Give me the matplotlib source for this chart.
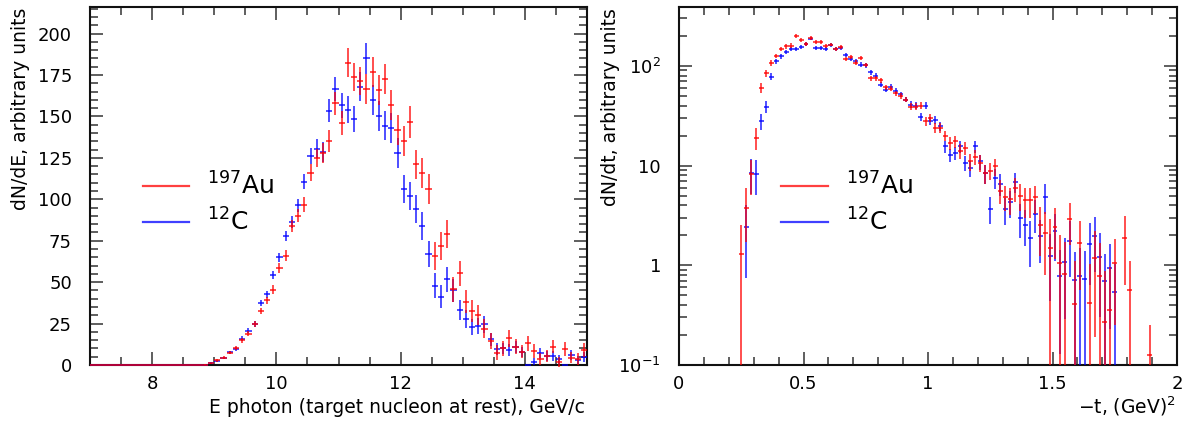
import numpy as np
import matplotlib
matplotlib.use("Agg")
import matplotlib.pyplot as plt
from matplotlib.ticker import MultipleLocator, FixedLocator, FixedFormatter, LogLocator, NullFormatter

plt.rcParams['font.family'] = ['DejaVu Sans']
plt.rcParams['mathtext.fontset'] = 'dejavusans'

# ---------------- Left panel data: photon energy spectrum ----------------
e_centers = [round(7.05 + 0.1 * i, 2) for i in range(80)]
e_au = [0]*18 + [
    0.3, 1.0, 2.8, 4.4, 7.4, 10.0, 14.8, 19.0, 25.0, 32.5,
    39.0, 45.5, 58.5, 66.0, 84.0, 90.0, 96.6, 116.0, 125.0, 128.0,
    135.0, 158.0, 146.0, 182.5, 174.0, 171.4, 166.5, 177.0, 166.0, 172.5,
    156.7, 142.0, 135.0, 146.5, 121.0, 116.0, 106.0, 66.0, 72.0, 78.8,
    45.8, 55.4, 38.3, 32.5, 30.0, 22.0, 14.5, 7.4, 10.2, 16.0,
    11.0, 8.0, 13.0, 8.5, 3.8, 5.4, 11.0, 1.7, 9.7, 4.5,
    3.6, 9.0]
e_au_err = [0]*18 + [
    0.3, 0.5, 0.7, 0.8, 1.0, 1.2, 1.4, 1.6, 1.8, 2.0,
    2.2, 2.5, 2.8, 3.2, 3.6, 4.0, 4.5, 5.0, 5.5, 6.0,
    6.5, 7.0, 7.5, 8.5, 8.5, 8.5, 9.0, 9.0, 9.0, 9.0,
    9.0, 9.0, 9.0, 9.5, 9.0, 9.0, 9.0, 8.5, 8.5, 8.5,
    7.5, 7.5, 7.0, 6.5, 6.0, 5.5, 5.0, 4.5, 4.5, 5.0,
    4.5, 4.0, 4.5, 4.0, 3.5, 3.5, 4.0, 3.0, 4.0, 3.5,
    3.5, 4.0]
e_c = [0]*18 + [
    0.3, 1.2, 2.6, 4.2, 7.6, 9.6, 15.8, 20.8, 24.6, 37.3,
    42.7, 54.4, 65.0, 77.8, 86.0, 96.4, 110.7, 126.0, 130.6, 128.5,
    153.5, 166.5, 156.7, 154.0, 148.5, 168.0, 185.0, 160.0, 150.0, 144.5,
    143.0, 128.0, 106.0, 101.8, 94.0, 84.0, 67.0, 47.8, 41.3, 51.8,
    45.0, 33.0, 27.8, 22.8, 23.5, 24.5, 15.5, 9.6, 10.0, 9.0,
    11.0, 8.0, 0.0, 2.0, 7.3, 5.2, 5.2, 3.4, 0.0, 6.0,
    3.0, 4.6]
e_c_err = [0]*18 + [
    0.3, 0.5, 0.7, 0.8, 1.0, 1.2, 1.4, 1.6, 1.8, 2.0,
    2.2, 2.5, 2.8, 3.2, 3.6, 4.0, 4.5, 5.0, 5.5, 6.0,
    7.0, 7.5, 7.5, 8.0, 8.0, 8.5, 9.5, 9.0, 9.0, 9.0,
    9.0, 9.0, 8.5, 8.5, 8.5, 8.5, 8.0, 7.5, 7.0, 7.5,
    7.0, 6.0, 5.5, 5.0, 5.0, 5.0, 4.0, 3.5, 3.5, 3.5,
    3.5, 3.0, 0.0, 2.0, 3.0, 3.0, 3.0, 2.5, 0.0, 3.0,
    2.5, 3.0]

# ---------------- Right panel data: -t spectrum ----------------
t_centers = [round(0.25 + 0.02 * i, 2) for i in range(83)]
nan = float('nan')
t_au = [
    1.3, 3.8, 8.3, 19.0, 60.0, 85.0, 107.0, 126.0, 148.0, 157.0,
    160.0, 200.0, 183.0, 167.0, 190.0, 174.0, 174.0, 160.0, 164.0, 148.0,
    155.0, 117.0, 123.0, 108.0, 120.0, 103.0, 75.0, 75.0, 72.0, 61.0,
    59.0, 53.0, 50.0, 46.0, 39.0, 39.0, 40.0, 28.0, 30.0, 24.0,
    24.0, 20.0, 17.0, 17.5, 14.0, 15.0, 11.0, 12.3, 10.7, 8.4,
    8.9, 9.8, 5.6, 4.9, 4.6, 5.9, 5.0, 4.5, 4.5, 4.8,
    2.55, 2.1, 1.5, 2.45, 1.05, 0.82, 2.9, 0.41, 1.67, nan,
    0.42, 1.19, 0.79, 0.27, 0.36, 1.05, nan, 1.88, 0.56, nan,
    nan, nan, 0.126]
t_au_err = [
    1.25, 2.1, 3.2, 4.7, 7.0, 7.0, 7.0, 7.0, 7.0, 8.0,
    8.0, 8.0, 8.0, 8.0, 8.0, 8.0, 8.0, 7.0, 7.0, 7.0,
    7.0, 6.0, 6.0, 6.0, 6.0, 5.0, 4.5, 4.5, 4.0, 3.8,
    3.6, 3.4, 3.2, 3.0, 3.0, 3.0, 3.0, 2.8, 2.8, 2.6,
    2.6, 2.5, 2.5, 2.4, 2.3, 2.3, 2.1, 2.2, 2.0, 1.8,
    1.8, 1.9, 1.5, 1.4, 1.4, 1.6, 1.5, 1.5, 1.5, 1.5,
    1.3, 1.3, 1.4, 1.3, 0.95, 0.9, 1.3, 0.7, 1.1, 0.0,
    0.6, 1.0, 0.9, 0.6, 0.6, 0.8, 0.0, 1.25, 0.55, 0.0,
    0.0, 0.0, 0.125]
t_c = [
    nan, 2.4, 8.4, 8.3, 28.0, 39.0, 78.0, 111.0, 125.0, 138.0,
    148.0, 148.0, 155.0, 165.0, 188.0, 152.0, 152.0, 148.0, 163.0, 148.0,
    152.0, 129.0, 117.0, 112.0, 103.0, 101.0, 86.0, 80.0, 65.0, 58.0,
    62.0, 56.0, 52.0, 46.0, 41.0, 40.0, 31.0, 40.0, 28.0, 29.0,
    25.0, 15.6, 12.8, 13.5, 15.6, 10.7, 9.4, 15.6, 11.0, 8.4,
    3.7, 7.5, 6.6, 3.66, 4.3, 6.9, 3.0, 2.55, 1.87, 3.3,
    1.95, 4.9, 1.24, 2.2, 0.78, 1.09, 1.76, 0.72, 0.78, 0.73,
    1.64, 1.96, 1.2, 0.69, 0.93, 0.54, nan, nan, nan, nan,
    nan, nan, nan]
t_c_err = [
    0.0, 1.65, 3.2, 3.2, 5.0, 5.0, 6.0, 7.0, 7.0, 7.0,
    7.0, 7.0, 7.0, 8.0, 8.0, 7.0, 7.0, 7.0, 7.0, 7.0,
    7.0, 6.0, 6.0, 6.0, 5.5, 5.0, 4.5, 4.5, 4.0, 3.8,
    3.8, 3.5, 3.3, 3.0, 3.0, 3.0, 2.8, 3.0, 2.6, 2.6,
    2.5, 2.2, 2.0, 2.0, 2.2, 1.8, 1.7, 2.1, 1.9, 1.8,
    1.1, 1.7, 1.6, 1.1, 1.3, 1.6, 1.1, 1.0, 0.9, 1.2,
    0.9, 1.6, 0.8, 1.1, 0.65, 0.8, 1.0, 0.65, 0.7, 0.65,
    1.0, 1.1, 0.9, 0.6, 0.7, 0.5, 0.0, 0.0, 0.0, 0.0,
    0.0, 0.0, 0.0]

label_au = r'$^{197}$Au'
label_c = r'$^{12}$C'
color_au = '#ff0000'
color_c = '#0000ff'

W, H = 1187, 423
fig = plt.figure(figsize=(W / 100, H / 100), dpi=100)

def px_axes(x0, x1, ytop, ybot):
    return fig.add_axes([x0 / W, 1 - ybot / H, (x1 - x0) / W, (ybot - ytop) / H])

axL = px_axes(90, 587, 7, 365)
axR = px_axes(679, 1177, 7, 365)

ekw = dict(fmt='none', elinewidth=1.3, capsize=0, alpha=0.75, zorder=3)

# left
axL.errorbar(e_centers, e_c, yerr=e_c_err, xerr=0.05, ecolor=color_c, clip_on=False, **ekw)
axL.errorbar(e_centers, e_au, yerr=e_au_err, xerr=0.05, ecolor=color_au, clip_on=False, **ekw)
axL.set_xlim(7, 15)
axL.set_ylim(0, 216)
axL.xaxis.set_major_locator(FixedLocator([8, 10, 12, 14]))
axL.xaxis.set_minor_locator(MultipleLocator(0.5))
axL.yaxis.set_major_locator(MultipleLocator(25))
axL.yaxis.set_minor_locator(MultipleLocator(5))

# right
axR.set_yscale('log')
axR.errorbar(t_centers, t_c, yerr=t_c_err, xerr=0.01, ecolor=color_c, **ekw)
axR.errorbar(t_centers, t_au, yerr=t_au_err, xerr=0.01, ecolor=color_au, **ekw)
axR.set_xlim(0, 2)
axR.set_ylim(0.1, 390)
axR.xaxis.set_major_locator(FixedLocator([0, 0.5, 1, 1.5, 2]))
axR.xaxis.set_major_formatter(FixedFormatter(['0', '0.5', '1', '1.5', '2']))
axR.xaxis.set_minor_locator(MultipleLocator(0.1))
axR.yaxis.set_major_locator(FixedLocator([0.1, 1, 10, 100]))
axR.yaxis.set_major_formatter(FixedFormatter([r'$10^{-1}$', '1', '10', r'$10^{2}$']))
axR.yaxis.set_minor_locator(LogLocator(base=10, subs=np.arange(2, 10), numticks=20))
axR.yaxis.set_minor_formatter(NullFormatter())

for ax in (axL, axR):
    for s in ax.spines.values():
        s.set_linewidth(1.5)
        s.set_color('#111111')
    ax.tick_params(which='both', direction='in', top=True, right=True,
                   color='#333333', width=1.1, labelsize=13)
    ax.tick_params(which='major', length=9.5)
    ax.tick_params(which='minor', length=5.5)
    ax.tick_params(axis='x', which='major', pad=7)
    ax.tick_params(axis='y', which='major', pad=13)

# legends drawn manually
for ax, (lx0, lx1, tx) in ((axL, (0.1066, 0.199, 0.235)), (axR, (0.205, 0.299, 0.335))):
    ax.plot([lx0, lx1], [0.50, 0.50], transform=ax.transAxes, color=color_au, lw=1.6, alpha=0.75)
    ax.plot([lx0, lx1], [0.40, 0.40], transform=ax.transAxes, color=color_c, lw=1.6, alpha=0.75)
    ax.text(tx, 0.50, label_au, transform=ax.transAxes, fontsize=18, va='center', ha='left')
    ax.text(tx, 0.40, label_c, transform=ax.transAxes, fontsize=18, va='center', ha='left')

# axis titles
fig.text(21 / W, 1 - 8 / H, 'dN/dE, arbitrary units', rotation=90, ha='center', va='top', fontsize=13.5)
fig.text(611 / W, 1 - 8 / H, 'dN/dt, arbitrary units', rotation=90, ha='center', va='top', fontsize=13.5)
fig.text(585 / W, 1 - 413 / H, 'E photon (target nucleon at rest), GeV/c', ha='right', va='baseline', fontsize=13.5)
fig.text(1176 / W, 1 - 413 / H, r'$-$t, (GeV)$^2$', ha='right', va='baseline', fontsize=13.5)

fig.savefig('out.png', dpi=100)
